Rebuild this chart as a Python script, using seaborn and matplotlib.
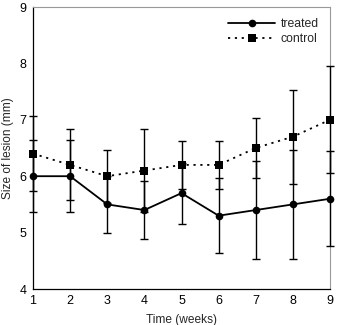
import numpy as np
import pandas as pd
import matplotlib
matplotlib.use("Agg")
import matplotlib.pyplot as plt
import seaborn as sns

# data
weeks = [1, 2, 3, 4, 5, 6, 7, 8, 9]
treated = [6.0, 6.0, 5.5, 5.4, 5.7, 5.3, 5.4, 5.5, 5.6]
treated_err = [0.64, 0.64, 0.5, 0.51, 0.54, 0.66, 0.87, 0.97, 0.84]
control = [6.4, 6.2, 6.0, 6.1, 6.2, 6.2, 6.5, 6.7, 7.0]
control_err = [0.66, 0.63, 0.47, 0.73, 0.43, 0.43, 0.53, 0.83, 0.95]

df = pd.DataFrame({'week': weeks * 2,
                   'size': treated + control,
                   'group': ['treated'] * 9 + ['control'] * 9})

sns.set_style('white')
plt.rcParams['font.family'] = ['Liberation Sans', 'DejaVu Sans']

fig = plt.figure(figsize=(3.38, 3.25), dpi=100)
ax = fig.add_axes([33 / 338, 1 - 289 / 325, 297 / 338, 282 / 325])

# error bars drawn above the spines, below the markers
for vals, errs in [(control, control_err), (treated, treated_err)]:
    eb = ax.errorbar(weeks, vals, yerr=errs, fmt='none', ecolor='black',
                     elinewidth=1.0, capsize=2.6, capthick=1.0, zorder=2.7)
    for art in eb.lines[1] + eb.lines[2]:
        art.set_clip_on(False)

sns.lineplot(data=df, x='week', y='size', hue='group', style='group',
             hue_order=['treated', 'control'], style_order=['treated', 'control'],
             palette={'treated': 'black', 'control': 'black'},
             markers={'treated': 'o', 'control': 's'},
             dashes={'treated': '', 'control': (1.2, 2.6)},
             markersize=5.5, markeredgewidth=0, linewidth=1.3,
             ax=ax, zorder=3, clip_on=False)

ax.set_xlim(1, 9)
ax.set_ylim(4, 9)
ax.set_xticks(weeks)
ax.set_yticks([4, 5, 6, 7, 8, 9])
ax.tick_params(axis='both', direction='inout', length=5, width=0.8,
               labelsize=9, colors='black', pad=2)
ax.set_xlabel('Time (weeks)', fontsize=8.6, labelpad=5)
ax.set_ylabel('Size of lesion (mm)', fontsize=8.6, labelpad=4)

for side in ['left', 'bottom']:
    ax.spines[side].set_color('black')
    ax.spines[side].set_linewidth(0.9)
for side in ['top', 'right']:
    ax.spines[side].set_color('#999999')
    ax.spines[side].set_linewidth(0.8)

leg = ax.legend(loc='upper right', frameon=False, fontsize=8.8,
                handlelength=3.8, handletextpad=0.5, labelspacing=0.25,
                borderaxespad=0.5)

fig.savefig('out.png', dpi=100)
